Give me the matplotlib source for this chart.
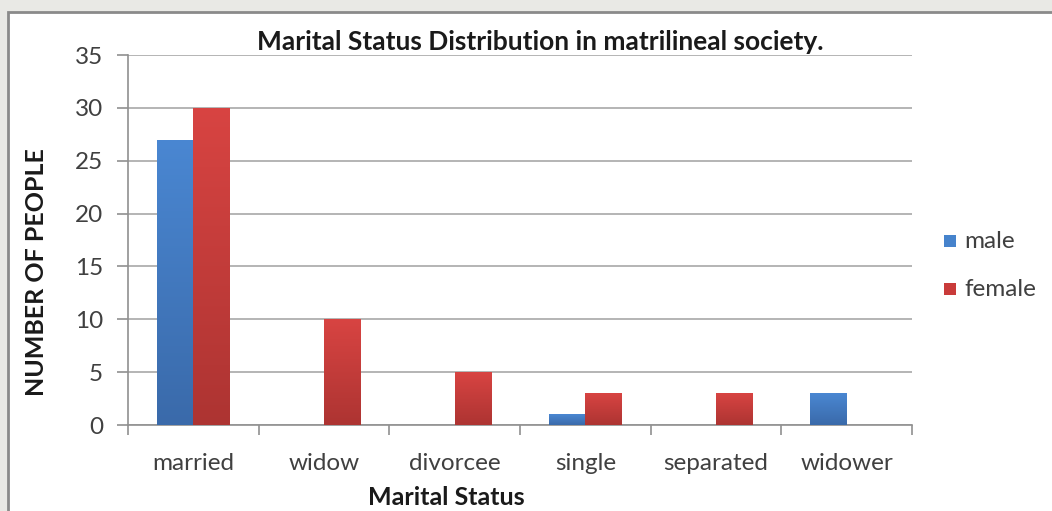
import matplotlib.pyplot as plt
import numpy as np
from matplotlib.colors import LinearSegmentedColormap
from matplotlib.patches import Rectangle

categories = ["married", "widow", "divorcee", "single", "separated", "widower"]
male = [27, 0, 0, 1, 0, 3]
female = [30, 10, 5, 3, 3, 0]
yticks = [0, 5, 10, 15, 20, 25, 30, 35]

plt.rcParams["font.family"] = ["Lato", "DejaVu Sans"]

W, H = 1052, 511
fig = plt.figure(figsize=(W / 100, H / 100), dpi=100, facecolor="#e9e9e5")

# white chart panel with grey frame, behind the axes
fig.patches.append(Rectangle((8 / W, -0.05), 1.1, (H - 12) / H + 0.05,
                             transform=fig.transFigure, facecolor="white",
                             edgecolor="#8a8a8a", linewidth=2.0, zorder=-5))

ax = fig.add_axes([128 / W, 1 - 425 / H, (912 - 128) / W, (425 - 55) / H])
ax.set_facecolor("none")

x = np.arange(len(categories))
bw = 0.28


def gradient_bars(xs, vals, top, bottom):
    bars = ax.bar(xs, vals, width=bw, color=top, linewidth=0, zorder=2)
    grad = np.linspace(0, 1, 256).reshape(-1, 1)
    cmap = LinearSegmentedColormap.from_list("g", [top, bottom])
    for b in bars:
        if b.get_height() <= 0:
            continue
        x0, y0 = b.get_x(), b.get_y()
        im = ax.imshow(grad, cmap=cmap, aspect="auto", zorder=3,
                       extent=[x0, x0 + b.get_width(), y0, y0 + b.get_height()],
                       origin="lower")
        im.set_clip_path(b)
    return bars


gradient_bars(x - bw / 2, male, "#3a6aaa", "#4a87d2")
gradient_bars(x + bw / 2, female, "#ad3432", "#d84442")

ax.set_xlim(-0.5, len(categories) - 0.5)
ax.set_ylim(0, 35)
ax.set_yticks(yticks)
ax.yaxis.grid(True, color="#a8a8a8", linewidth=1.2, zorder=0)
ax.set_axisbelow(True)

ax.set_xticks(x)
ax.set_xticklabels(categories, fontsize=17.5, color="#404040")
ax.tick_params(axis="x", length=0, pad=20)
ax.set_xticks(np.arange(-0.5, len(categories)), minor=True)
ax.tick_params(axis="x", which="minor", length=7, color="#909090", width=1.2)
ax.tick_params(axis="y", labelsize=17.5, labelcolor="#404040", length=8,
               color="#909090", width=1.2, pad=10)

for s in ["top", "right"]:
    ax.spines[s].set_visible(False)
ax.spines["left"].set_color("#909090")
ax.spines["bottom"].set_color("#909090")
ax.spines["left"].set_linewidth(1.2)
ax.spines["bottom"].set_linewidth(1.2)

fig.text(540 / W, 1 - 42 / H, "Marital Status Distribution in matrilineal society.",
         ha="center", va="center", fontsize=19, fontweight="bold", color="#1a1a1a")
fig.text(37 / W, 1 - 272 / H, "NUMBER OF PEOPLE", rotation=90, ha="center",
         va="center", fontsize=18, fontweight="bold", color="#1a1a1a")
fig.text(446 / W, 1 - 497 / H, "Marital Status", ha="center", va="center",
         fontsize=18, fontweight="bold", color="#1a1a1a")

# legend
for yy, col, lab in [(241, "#4683cc", "male"), (289, "#c93b3a", "female")]:
    fig.patches.append(Rectangle((944 / W, 1 - (yy + 6) / H), 12 / W, 12 / H,
                                 transform=fig.transFigure, facecolor=col,
                                 edgecolor="none"))
    fig.text(964 / W, 1 - yy / H, lab, ha="left", va="center", fontsize=17.5,
             color="#404040")

fig.savefig("out.png", dpi=100, facecolor=fig.get_facecolor())
